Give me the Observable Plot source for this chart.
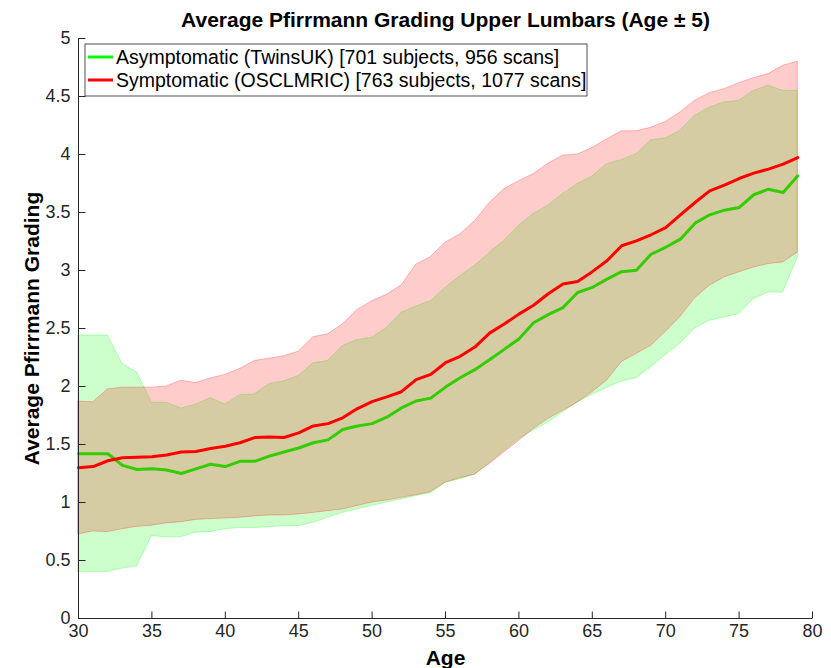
<!DOCTYPE html>
<html><head><meta charset="utf-8">
<script src="https://cdn.jsdelivr.net/npm/d3@7"></script>
<script src="https://cdn.jsdelivr.net/npm/@observablehq/plot@0.6"></script>
<style>
body{margin:0;background:#fff}
svg{font-family:"Liberation Sans",Arial,Helvetica,sans-serif}
</style>
</head><body><div id="chart"></div>
<script>
const title = "Average Pfirrmann Grading Upper Lumbars (Age \u00b1 5)";
const xLabel = "Age";
const yLabel = "Average Pfirrmann Grading";
const seriesNames = ["Asymptomatic (TwinsUK) [701 subjects, 956 scans]", "Symptomatic (OSCLMRIC) [763 subjects, 1077 scans]"];
const xTicks = [30, 35, 40, 45, 50, 55, 60, 65, 70, 75, 80];
const yTicks = [0, 0.5, 1, 1.5, 2, 2.5, 3, 3.5, 4, 4.5, 5];

const ages = [30,31,32,33,34,35,36,37,38,39,40,41,42,43,44,45,46,47,48,49,50,51,52,53,54,55,56,57,58,59,60,61,62,63,64,65,66,67,68,69,70,71,72,73,74,75,76,77,78,79];

const asymMean = [1.42,1.42,1.42,1.32,1.285,1.29,1.28,1.25,1.29,1.33,1.31,1.355,1.355,1.40,1.435,1.47,1.515,1.54,1.63,1.66,1.68,1.735,1.815,1.875,1.90,1.995,2.075,2.145,2.23,2.32,2.41,2.55,2.62,2.68,2.81,2.854,2.926,2.99,3.003,3.14,3.20,3.27,3.408,3.48,3.52,3.543,3.653,3.701,3.673,3.816];
const asymHi = [2.44,2.44,2.44,2.195,2.12,1.86,1.86,1.81,1.845,1.90,1.845,1.925,1.93,2.02,2.045,2.09,2.20,2.22,2.35,2.40,2.42,2.505,2.635,2.69,2.735,2.85,2.95,3.04,3.15,3.256,3.385,3.486,3.558,3.66,3.745,3.81,3.917,3.952,4.003,4.12,4.14,4.204,4.334,4.405,4.449,4.463,4.549,4.592,4.549,4.549];
const asymLo = [0.40,0.40,0.40,0.43,0.45,0.71,0.70,0.70,0.74,0.744,0.77,0.78,0.78,0.787,0.795,0.795,0.825,0.868,0.91,0.94,0.97,1.0,1.025,1.055,1.08,1.17,1.20,1.24,1.34,1.446,1.547,1.62,1.69,1.777,1.863,1.93,1.986,2.044,2.07,2.164,2.27,2.37,2.50,2.566,2.595,2.624,2.753,2.81,2.81,3.112];

const symMean = [1.30,1.31,1.36,1.385,1.39,1.395,1.41,1.435,1.44,1.465,1.485,1.515,1.56,1.565,1.56,1.60,1.66,1.68,1.73,1.81,1.87,1.91,1.955,2.06,2.105,2.205,2.26,2.34,2.46,2.538,2.624,2.70,2.80,2.883,2.906,2.99,3.084,3.213,3.256,3.308,3.37,3.48,3.586,3.687,3.736,3.793,3.839,3.874,3.917,3.974];
const symHi = [1.87,1.865,1.975,1.99,1.99,1.99,2.0,2.05,2.03,2.07,2.10,2.15,2.22,2.24,2.26,2.30,2.425,2.45,2.535,2.66,2.735,2.79,2.87,3.05,3.115,3.24,3.31,3.425,3.58,3.70,3.77,3.83,3.92,3.99,4.0,4.055,4.13,4.20,4.20,4.23,4.28,4.362,4.463,4.529,4.563,4.615,4.658,4.693,4.765,4.80];
const symLo = [0.725,0.75,0.745,0.77,0.79,0.80,0.82,0.83,0.85,0.857,0.862,0.868,0.88,0.888,0.888,0.897,0.91,0.925,0.94,0.97,1.0,1.017,1.04,1.063,1.09,1.17,1.21,1.24,1.33,1.43,1.53,1.633,1.72,1.79,1.86,1.95,2.05,2.21,2.28,2.35,2.47,2.60,2.76,2.868,2.94,2.983,3.026,3.055,3.07,3.155];

const greenC = "#00ff00";
const redC = "#ff0000";
const axisC = "#262626";

const table = ages.map((a, i) => ({
  age: a,
  asymMean: asymMean[i], asymHi: asymHi[i], asymLo: asymLo[i],
  symMean: symMean[i], symHi: symHi[i], symLo: symLo[i]
}));

const upTick = {draw(ctx) { ctx.moveTo(0, 0); ctx.lineTo(0, -7); }};
const rightTick = {draw(ctx) { ctx.moveTo(0, 0); ctx.lineTo(7, 0); }};

const chart = Plot.plot({
  width: 831, height: 668,
  marginLeft: 78, marginRight: 19, marginTop: 38, marginBottom: 50,
  x: {domain: [30, 80]},
  y: {domain: [0, 5]},
  style: {fontFamily: '"Liberation Sans", Arial, sans-serif', fontSize: "18px", color: axisC, background: "white"},
  marks: [
    Plot.areaY(table, {x: "age", y1: "asymLo", y2: "asymHi", fill: greenC, fillOpacity: 0.2, stroke: greenC, strokeOpacity: 0.25, strokeWidth: 1}),
    Plot.lineY(table, {x: "age", y: "asymMean", stroke: greenC, strokeWidth: 3}),
    Plot.areaY(table, {x: "age", y1: "symLo", y2: "symHi", fill: redC, fillOpacity: 0.2, stroke: redC, strokeOpacity: 0.25, strokeWidth: 1}),
    Plot.lineY(table, {x: "age", y: "symMean", stroke: redC, strokeWidth: 3}),
    Plot.ruleY([0], {stroke: axisC, strokeWidth: 1}),
    Plot.ruleX([30], {stroke: axisC, strokeWidth: 1}),
    Plot.dot(xTicks, {x: d => d, y: () => 0, symbol: upTick, stroke: axisC, fill: "none", strokeWidth: 1}),
    Plot.dot(yTicks, {x: () => 30, y: d => d, symbol: rightTick, stroke: axisC, fill: "none", strokeWidth: 1}),
    Plot.axisX({ticks: xTicks, tickSize: 0, tickPadding: 6, label: null, tickFormat: d => String(d)}),
    Plot.axisY({ticks: yTicks, tickSize: 0, tickPadding: 8, label: null, tickFormat: d => String(d)}),
    Plot.text([title], {frameAnchor: "top", dy: -18, lineAnchor: "middle", textAnchor: "middle", fontWeight: "bold", fontSize: 21, fill: "black", text: d => d}),
    Plot.text([xLabel], {frameAnchor: "bottom", dy: 40, lineAnchor: "middle", textAnchor: "middle", fontWeight: "bold", fontSize: 21, fill: "black", text: d => d}),
    Plot.text([yLabel], {frameAnchor: "left", dx: -46, rotate: -90, lineAnchor: "middle", textAnchor: "middle", fontWeight: "bold", fontSize: 21, fill: "black", text: d => d})
  ]
});
document.getElementById("chart").appendChild(chart);

// Legend (inside the axes, top-left)
const svg = d3.select(chart);
const lg = svg.append("g").attr("transform", "translate(85,44)");
lg.append("rect").attr("width", 502).attr("height", 52).attr("fill", "white").attr("stroke", axisC).attr("stroke-width", 0.8);
const seriesColors = [greenC, redC];
seriesNames.forEach((name, i) => {
  const y = 13 + i * 23;
  lg.append("line").attr("x1", 3).attr("x2", 28).attr("y1", y).attr("y2", y).attr("stroke", seriesColors[i]).attr("stroke-width", 3);
  lg.append("text").attr("x", 31).attr("y", y).attr("dy", "0.35em").attr("text-anchor", "start")
    .attr("font-size", 19.5).attr("fill", "black").text(name);
});
</script>
</body></html>
